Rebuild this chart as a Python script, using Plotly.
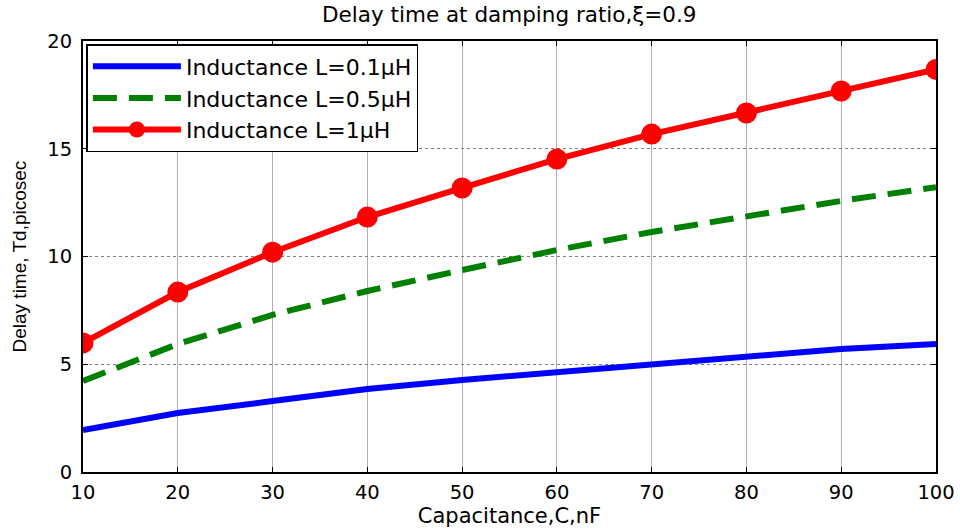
import plotly.graph_objects as go

capacitance = [10, 20, 30, 40, 50, 60, 70, 80, 90, 100]
td_L01 = [1.95, 2.74, 3.29, 3.85, 4.27, 4.64, 4.97, 5.34, 5.71, 5.94]
td_L05 = [4.22, 5.94, 7.29, 8.40, 9.37, 10.30, 11.14, 11.88, 12.58, 13.22]
td_L1 = [5.99, 8.35, 10.20, 11.83, 13.18, 14.52, 15.68, 16.66, 17.68, 18.68]
x_ticks = [10, 20, 30, 40, 50, 60, 70, 80, 90, 100]
y_ticks = [0, 5, 10, 15, 20]

FONT = "Arial, Liberation Sans, sans-serif"
WIDE = "DejaVu Sans, sans-serif"

fig = go.Figure()
fig.add_trace(go.Scatter(x=capacitance, y=td_L01, mode="lines",
                         line=dict(color="#0000ff", width=6),
                         name="Inductance L=0.1\u03bcH"))
fig.add_trace(go.Scatter(x=capacitance, y=td_L05, mode="lines",
                         line=dict(color="#008000", width=6, dash="24px,12px"),
                         name="Inductance L=0.5\u03bcH"))
fig.add_trace(go.Scatter(x=capacitance, y=td_L1, mode="lines+markers",
                         line=dict(color="#ff0000", width=6),
                         marker=dict(symbol="circle", size=21, color="#ff0000"),
                         name="Inductance L=1\u03bcH"))

axis_common = dict(
    showline=True, linecolor="black", linewidth=2, mirror="ticks",
    ticks="inside", ticklen=5, tickcolor="black", tickwidth=1,
    tickfont=dict(family=WIDE, size=19.5, color="black"),
    zeroline=False, automargin=False,
)

fig.update_xaxes(range=[10, 100], tickvals=x_ticks,
                 showgrid=True, gridcolor="#b0b0b0", gridwidth=1,
                 ticklabelstandoff=2,
                 title=dict(text="Capacitance,C,nF", font=dict(family=WIDE, size=21, color="black"), standoff=0),
                 **axis_common)
fig.update_yaxes(range=[0, 20], tickvals=y_ticks,
                 showgrid=True, gridcolor="#808080", gridwidth=1, griddash="dot",
                 ticklabelstandoff=5,
                 **axis_common)

fig.add_annotation(text="Delay time, Td,picosec", xref="paper", yref="paper",
                   x=0, y=0.5, xanchor="center", yanchor="middle",
                   xshift=-64, textangle=-90, showarrow=False,
                   font=dict(family=FONT, size=19, color="black"))

fig.update_layout(
    width=960, height=530,
    margin=dict(l=83, r=24, t=41, b=58),
    paper_bgcolor="white", plot_bgcolor="white",
    title=dict(text="Delay time at damping ratio,\u03be=0.9", x=0.5305, xanchor="center",
               y=0.972, yanchor="middle",
               font=dict(family=WIDE, size=21.5, color="black")),
    legend=dict(x=0.004, y=0.993, xanchor="left", yanchor="top",
                bgcolor="white", bordercolor="black", borderwidth=1.5,
                font=dict(family=WIDE, size=22, color="black"),
                itemwidth=88, tracegroupgap=0),
    showlegend=True,
)

fig.write_html("out.html")
